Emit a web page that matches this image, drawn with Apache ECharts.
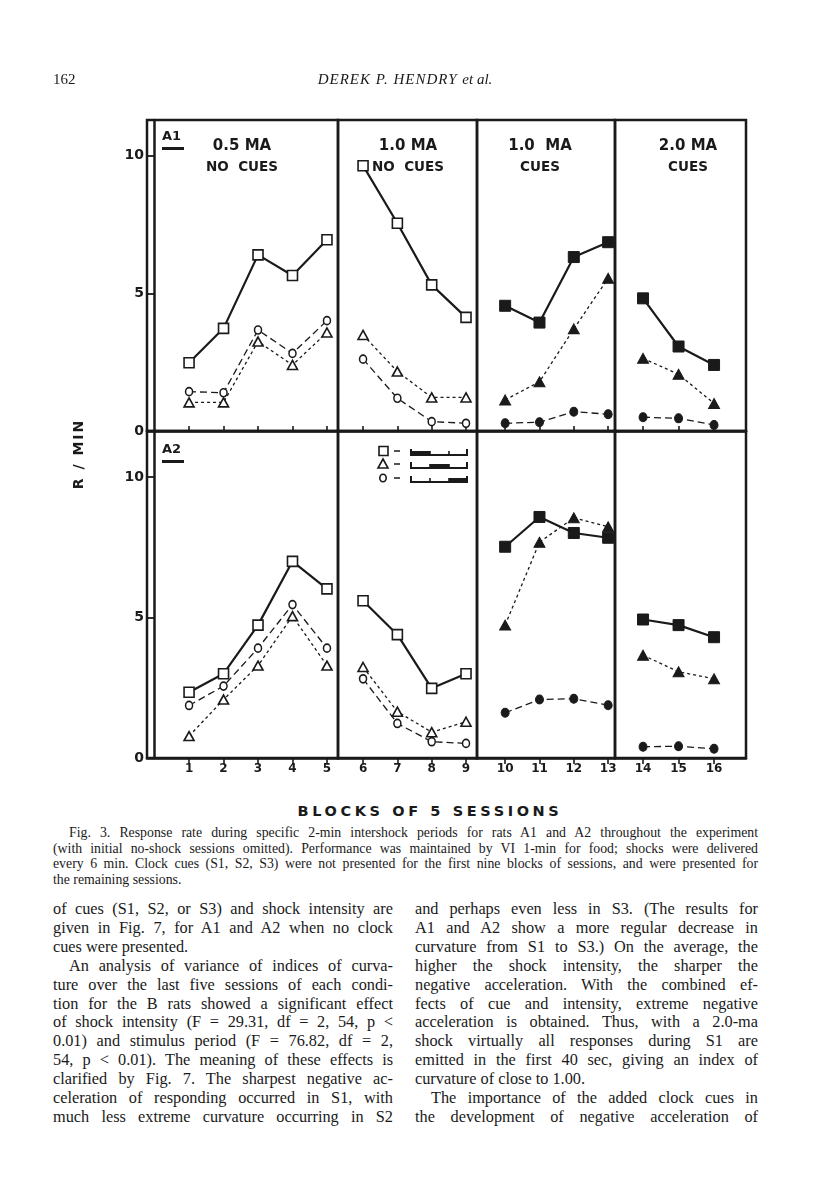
<!DOCTYPE html>
<html>
<head>
<meta charset="utf-8">
<script src="https://cdn.jsdelivr.net/npm/echarts@6.0.0/dist/echarts.min.js"></script>
<style>
  html, body { margin: 0; padding: 0; background: #fff; }
  #page { position: relative; width: 816px; height: 1200px; overflow: hidden; background: #fff; color: #1a1a1a; }
  #chart { position: absolute; left: 0; top: 0; width: 816px; height: 800px; }
  .abs { position: absolute; }
  .serif { font-family: "Liberation Serif", "DejaVu Serif", serif; }
  .sans { font-family: "DejaVu Sans", "Liberation Sans", sans-serif; font-weight: bold; }
  .caption div, .col div { white-space: nowrap; }
  .caption { left: 53px; top: 825px; width: 705px; font-size: 13.8px; line-height: 15.6px; }
  .col { top: 900px; font-size: 16.3px; line-height: 18.9px; }
  .ind { text-indent: 16px; }
</style>
</head>
<body>
<div id="page">
  <div id="chart"></div>

  <div class="abs serif" style="left:53px; top:71px; font-size:15px;">162</div>
  <div class="abs serif" style="left:255px; width:300px; top:71px; font-size:15px; font-style:italic; text-align:center; letter-spacing:1px;">DEREK P. HENDRY <span style="letter-spacing:0">et al.</span></div>

  <div class="abs sans" style="left:28px; top:446px; width:100px; text-align:center; font-size:14px; letter-spacing:2px; transform:rotate(-90deg);">R / MIN</div>
  <div class="abs sans" style="left:230px; top:803px; width:400px; text-align:center; font-size:14.5px; letter-spacing:3.6px;">BLOCKS OF 5 SESSIONS</div>

  <div class="abs serif caption">
    <div class="j ind">Fig. 3. Response rate during specific 2-min intershock periods for rats A1 and A2 throughout the experiment</div>
    <div class="j">(with initial no-shock sessions omitted). Performance was maintained by VI 1-min for food; shocks were delivered</div>
    <div class="j">every 6 min. Clock cues (S1, S2, S3) were not presented for the first nine blocks of sessions, and were presented for</div>
    <div>the remaining sessions.</div>
  </div>

  <div class="abs serif col" style="left:53px; width:340px;">
    <div class="j">of cues (S1, S2, or S3) and shock intensity are</div>
    <div class="j">given in Fig. 7, for A1 and A2 when no clock</div>
    <div>cues were presented.</div>
    <div class="j ind">An analysis of variance of indices of curva-</div>
    <div class="j">ture over the last five sessions of each condi-</div>
    <div class="j">tion for the B rats showed a significant effect</div>
    <div class="j">of shock intensity (F = 29.31, df = 2, 54, p &lt;</div>
    <div class="j">0.01) and stimulus period (F = 76.82, df = 2,</div>
    <div class="j">54, p &lt; 0.01). The meaning of these effects is</div>
    <div class="j">clarified by Fig. 7. The sharpest negative ac-</div>
    <div class="j">celeration of responding occurred in S1, with</div>
    <div class="j">much less extreme curvature occurring in S2</div>
  </div>

  <div class="abs serif col" style="left:415px; width:343px;">
    <div class="j">and perhaps even less in S3. (The results for</div>
    <div class="j">A1 and A2 show a more regular decrease in</div>
    <div class="j">curvature from S1 to S3.) On the average, the</div>
    <div class="j">higher the shock intensity, the sharper the</div>
    <div class="j">negative acceleration. With the combined ef-</div>
    <div class="j">fects of cue and intensity, extreme negative</div>
    <div class="j">acceleration is obtained. Thus, with a 2.0-ma</div>
    <div class="j">shock virtually all responses during S1 are</div>
    <div class="j">emitted in the first 40 sec, giving an index of</div>
    <div>curvature of close to 1.00.</div>
    <div class="j ind">The importance of the added clock cues in</div>
    <div class="j">the development of negative acceleration of</div>
  </div>
</div>

<script>
// blocks of 5 sessions, grouped into the four conditions
const blocks = [1, 2, 3, 4, 5, 6, 7, 8, 9, 10, 11, 12, 13, 14, 15, 16];
const panelBlocks = [[1, 2, 3, 4, 5], [6, 7, 8, 9], [10, 11, 12, 13], [14, 15, 16]];
const yTickValues = [0, 5, 10];
const panelTitles = [['0.5 MA', 'NO  CUES'], ['1.0 MA', 'NO  CUES'], ['1.0  MA', 'CUES'], ['2.0 MA', 'CUES']];
const ratLabels = ['A1', 'A2'];

// R/MIN for rat A1 (square = S1, triangle = S2, circle = S3)
const a1Square   = [2.48, 3.73, 6.40, 5.65, 6.95, 9.64, 7.55, 5.31, 4.13, 4.55, 3.94, 6.32, 6.86, 4.82, 3.07, 2.40];
const a1Triangle = [1.04, 1.04, 3.25, 2.40, 3.58, 3.49, 2.16, 1.22, 1.22, 1.13, 1.79, 3.71, 5.55, 2.64, 2.06, 1.00];
const a1Circle   = [1.43, 1.39, 3.67, 2.82, 4.01, 2.61, 1.19, 0.34, 0.28, 0.28, 0.32, 0.70, 0.61, 0.50, 0.46, 0.22];

// R/MIN for rat A2
const a2Square   = [2.34, 3.00, 4.73, 7.00, 6.02, 5.60, 4.39, 2.48, 3.00, 7.52, 8.58, 8.01, 7.84, 4.93, 4.73, 4.30];
const a2Triangle = [0.78, 2.08, 3.29, 5.05, 3.29, 3.24, 1.65, 0.92, 1.29, 4.73, 7.68, 8.55, 8.23, 3.66, 3.07, 2.82];
const a2Circle   = [1.87, 2.56, 3.91, 5.46, 3.91, 2.82, 1.23, 0.58, 0.52, 1.61, 2.08, 2.11, 1.88, 0.40, 0.42, 0.33];

const ink = '#1a1a1a';
const numFont = 'DejaVu Sans';

// justify each printed line to its column by word spacing
document.querySelectorAll('.j').forEach(el => {
  const target = el.clientWidth - (el.classList.contains('ind') ? 16 : 0);
  const span = document.createElement('span');
  span.textContent = el.textContent;
  el.textContent = '';
  el.appendChild(span);
  const natural = span.getBoundingClientRect().width;
  const gaps = (span.textContent.match(/ /g) || []).length;
  if (gaps) el.style.wordSpacing = ((target - natural) / gaps) + 'px';
});

// panel layout (pixels) and axis ranges
const cols = [
  { left: 147, width: 191, min: -0.22, max: 5.32, titleX: 242 },
  { left: 338, width: 139, min: 5.27, max: 9.32, titleX: 408 },
  { left: 477, width: 138, min: 9.18, max: 13.2, titleX: 540 },
  { left: 615, width: 131, min: 13.21, max: 16.9, titleX: 688 }
];
const rows = [
  { top: 120, height: 311, max: 11.3 },
  { top: 431, height: 327, max: 11.64 }
];

const stimuli = [
  { symbol: 'rect', open: 10, filled: 11, line: { type: 'solid', width: 2.2 } },
  { symbol: 'triangle', open: [10, 9], filled: [11, 10], line: { type: [3, 3], width: 1.3 } },
  { symbol: 'circle', open: [7, 8], filled: [8, 9], line: { type: [7, 4], width: 1.3 } }
];
const ratData = [[a1Square, a1Triangle, a1Circle], [a2Square, a2Triangle, a2Circle]];

const grid = [], xAxis = [], yAxis = [], series = [];
rows.forEach((row, r) => {
  cols.forEach((col, c) => {
    const gi = r * 4 + c;
    grid.push({
      left: col.left, top: row.top, width: col.width, height: row.height,
      show: true, borderColor: ink, borderWidth: 2.5, backgroundColor: 'transparent',
      containLabel: false, outerBoundsMode: 'none'
    });
    xAxis.push({
      gridIndex: gi, type: 'value', min: col.min, max: col.max,
      axisLine: { show: true, lineStyle: { color: ink, width: 2.5 } },
      axisTick: { show: true, inside: r === 0, length: r === 0 ? 5 : 6, customValues: panelBlocks[c], lineStyle: { color: ink, width: 1.6 } },
      axisLabel: { show: r === 1, customValues: panelBlocks[c], color: ink, fontFamily: numFont, fontWeight: 'bold', fontSize: 12, margin: 5 },
      splitLine: { show: false }
    });
    yAxis.push({
      gridIndex: gi, type: 'value', min: 0, max: row.max, interval: 5,
      axisLine: { show: c === 0, lineStyle: { color: ink, width: 2.5 } },
      axisTick: { show: c === 0, length: 8, customValues: yTickValues, lineStyle: { color: ink, width: 1.8 } },
      axisLabel: { show: c === 0, customValues: yTickValues, color: ink, fontFamily: numFont, fontWeight: 'bold', fontSize: 14, margin: 3 },
      splitLine: { show: false }
    });
    stimuli.forEach((s, k) => {
      const vals = ratData[r][k];
      const filled = c >= 2;
      series.push({
        type: 'line', xAxisIndex: gi, yAxisIndex: gi,
        data: panelBlocks[c].map(b => [b, vals[blocks.indexOf(b)]]),
        symbol: s.symbol, symbolSize: filled ? s.filled : s.open, showAllSymbol: true,
        lineStyle: { color: ink, type: s.line.type, width: s.line.width },
        itemStyle: { color: filled ? ink : '#fff', borderColor: ink, borderWidth: filled ? 1 : 1.6 },
        silent: true, z: 3 + (k === 0 ? 1 : 0)
      });
    });
  });
});

// panel headings, rat labels and the clock-cue key
const graphic = [];
cols.forEach((col, c) => {
  graphic.push({ type: 'text', x: col.titleX, y: 146, style: { text: panelTitles[c][0], font: 'bold 15px "DejaVu Sans"', fill: ink, textAlign: 'center', textVerticalAlign: 'middle' } });
  graphic.push({ type: 'text', x: col.titleX, y: 167, style: { text: panelTitles[c][1], font: 'bold 13.5px "DejaVu Sans"', fill: ink, textAlign: 'center', textVerticalAlign: 'middle' } });
});
ratLabels.forEach((lab, r) => {
  const y0 = r === 0 ? 137 : 450;
  graphic.push({ type: 'text', x: 162, y: y0, style: { text: lab, font: 'bold 13px "DejaVu Sans"', fill: ink, textAlign: 'left', textVerticalAlign: 'middle' } });
  graphic.push({ type: 'rect', shape: { x: 162, y: y0 + 10, width: 22, height: 3 }, style: { fill: ink } });
});
const keyRows = [451, 464, 478];
const keyStops = [411, 430, 449, 467];
keyRows.forEach((y, i) => {
  if (i === 0) graphic.push({ type: 'rect', shape: { x: 379, y: y - 4.5, width: 9, height: 9 }, style: { fill: '#fff', stroke: ink, lineWidth: 1.6 } });
  if (i === 1) graphic.push({ type: 'polygon', shape: { points: [[383, y - 5], [388, y + 4], [378, y + 4]] }, style: { fill: '#fff', stroke: ink, lineWidth: 1.6 } });
  if (i === 2) graphic.push({ type: 'ellipse', shape: { cx: 383, cy: y, rx: 3.2, ry: 3.8 }, style: { fill: '#fff', stroke: ink, lineWidth: 1.6 } });
  graphic.push({ type: 'line', shape: { x1: 394, y1: y, x2: 400, y2: y }, style: { stroke: ink, lineWidth: 1.5 } });
  const b = y + 4;
  graphic.push({ type: 'polyline', shape: { points: [[keyStops[0], b - 6], [keyStops[0], b], [keyStops[3], b], [keyStops[3], b - 6]] }, style: { stroke: ink, lineWidth: 2, fill: null } });
  graphic.push({ type: 'line', shape: { x1: keyStops[1], y1: b, x2: keyStops[1], y2: b - 4 }, style: { stroke: ink, lineWidth: 1.6 } });
  graphic.push({ type: 'line', shape: { x1: keyStops[2], y1: b, x2: keyStops[2], y2: b - 4 }, style: { stroke: ink, lineWidth: 1.6 } });
  graphic.push({ type: 'rect', shape: { x: keyStops[i], y: b - 4, width: keyStops[i + 1] - keyStops[i], height: 5 }, style: { fill: ink } });
});

const chart = echarts.init(document.getElementById('chart'), null, { renderer: 'canvas' });
chart.setOption({
  animation: false,
  backgroundColor: 'transparent',
  grid, xAxis, yAxis, series, graphic
});
</script>
</body>
</html>
